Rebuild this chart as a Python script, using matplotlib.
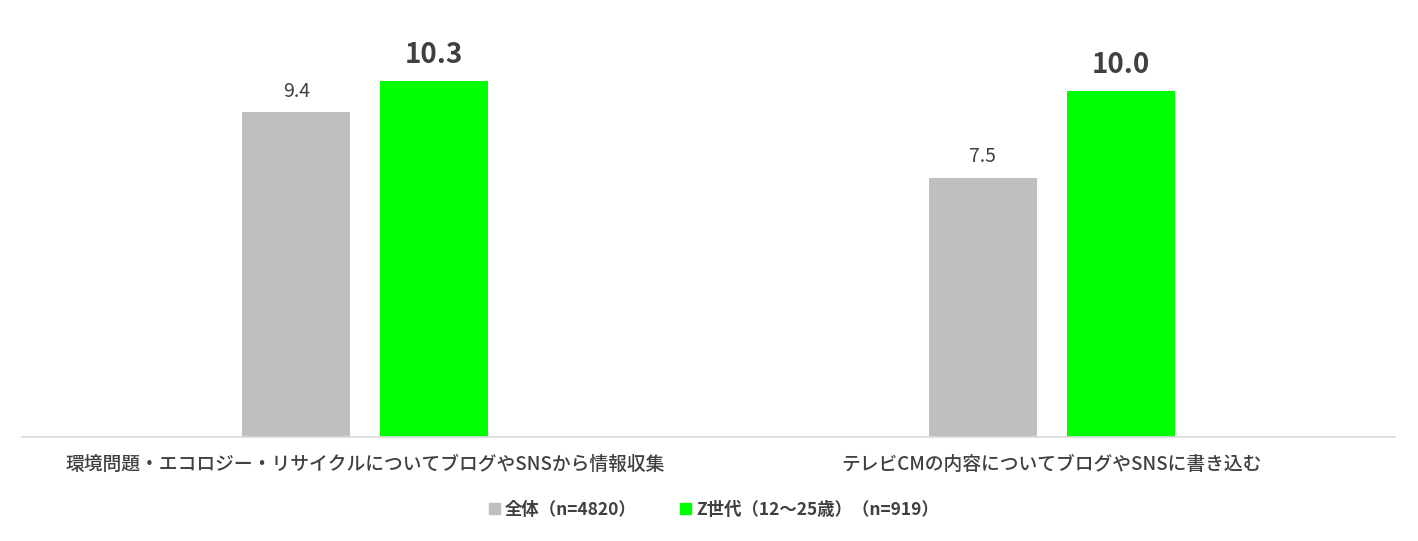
import numpy as np
import matplotlib
matplotlib.use('Agg')
import matplotlib.pyplot as plt
from matplotlib.patches import Patch

plt.rcParams['font.family'] = ['Noto Sans CJK JP', 'DejaVu Sans']

# data
categories = ['環境問題・エコロジー・リサイクルについてブログやSNSから情報収集',
              'テレビCMの内容についてブログやSNSに書き込む']
series_names = ['全体（n=4820）', 'Z世代（12～25歳）（n=919）']
all_vals = [9.4, 7.5]
gen_z_vals = [10.3, 10.0]

gray = '#BFBFBF'
green = '#00FF00'
txt = '#404040'

fig = plt.figure(figsize=(14.18, 5.41), dpi=100)
ax = fig.add_axes([22 / 1418, 104 / 541, 1373 / 1418, 415 / 541])

x = np.arange(len(categories))
w = 0.157
off = 0.1005
b1 = ax.bar(x - off, all_vals, w, color=gray)
b2 = ax.bar(x + off, gen_z_vals, w, color=green)

for r, v in zip(b1, all_vals):
    ax.text(r.get_x() + r.get_width() / 2, v + 0.3, f'{v:.1f}', ha='center', va='bottom',
            fontsize=14, color=txt)
for r, v in zip(b2, gen_z_vals):
    ax.text(r.get_x() + r.get_width() / 2, v + 0.35, f'{v:.1f}', ha='center', va='bottom',
            fontsize=20, fontweight='bold', color=txt)

ax.set_xlim(-0.5, 1.5)
ax.set_ylim(0, 12)
ax.set_xticks(x)
ax.set_xticklabels(categories, fontsize=13.5, color=txt, fontweight='medium')
ax.tick_params(axis='x', length=0, pad=13)
ax.set_yticks([])
for s in ['top', 'right', 'left']:
    ax.spines[s].set_visible(False)
ax.spines['bottom'].set_color('#D9D9D9')
ax.spines['bottom'].set_linewidth(1.2)

handles = [Patch(color=gray), Patch(color=green)]
leg = fig.legend(handles, series_names, loc='center', bbox_to_anchor=(714 / 1418, 1 - 510 / 541),
                 ncol=2, frameon=False, handlelength=0.6, handleheight=0.6, handletextpad=0.3,
                 columnspacing=2.5, prop={'size': 12.5, 'weight': 'bold'})
for t in leg.get_texts():
    t.set_color(txt)

fig.savefig('out.png', dpi=100)
